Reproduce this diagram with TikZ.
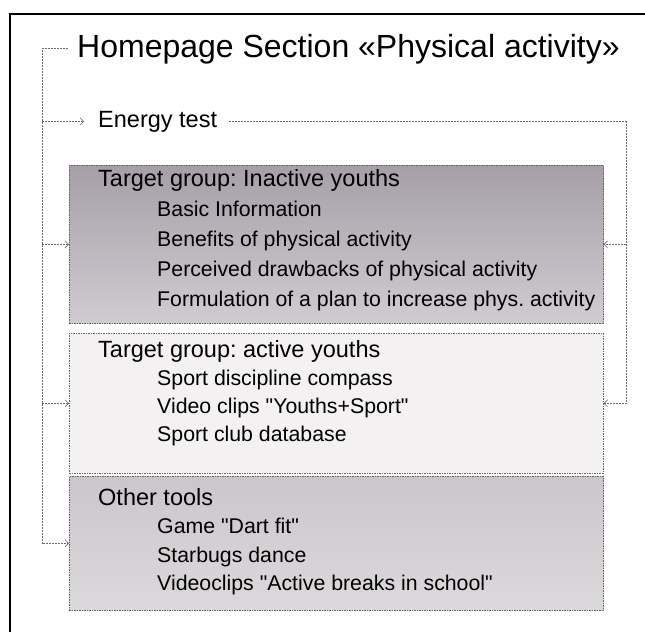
\documentclass[tikz,border=0pt]{standalone}
\usepackage{fontspec}
\setmainfont{Liberation Sans}
\frenchspacing
\usetikzlibrary{positioning, arrows.meta, calc}
\definecolor{inactivedark}{RGB}{166,159,168}
\definecolor{inactivelight}{RGB}{208,204,209}
\definecolor{activefill}{RGB}{243,241,241}
\definecolor{toolsdark}{RGB}{202,198,203}
\definecolor{toolslight}{RGB}{220,217,220}
\definecolor{linkgray}{RGB}{105,105,112}

\begin{document}
\begin{tikzpicture}[x=1pt, y=-1pt,
        grpbox/.style={rectangle, draw=gray!80!black, dash pattern=on 1.5pt off 1pt, line width=0.6pt, anchor=north west, minimum width=534pt, inner sep=0pt},
        head/.style={anchor=base west, inner sep=0pt, font=\fontsize{23.5}{28}\selectfont},
        item/.style={anchor=base west, inner sep=0pt, font=\fontsize{21.3}{26}\selectfont},
        link/.style={draw=linkgray, line width=0.6pt, dash pattern=on 2pt off 1pt},
        arrow/.style={link, -{Straight Barb[length=3.5pt, width=7pt]}}
    ]
        \useasboundingbox (0,0) rectangle (645,632);

        % Page frame
        \draw[line width=1.3pt] (645,14) -- (10,14) -- (10,632);

        % Title and energy test
        \node[head, font=\fontsize{32}{38}\selectfont] (title) at (77,57) {Homepage Section «Physical activity»};
        \node[head] (energy) at (98,127) {Energy test};

        % Target group: inactive youths
        \node[grpbox, top color=inactivedark, bottom color=inactivelight, minimum height=158pt] (inactive) at (69,165) {};
        \node[head] (inactive-head) at (98,186) {Target group: Inactive youths};
        \foreach \entry [count=\k] in {Basic Information, Benefits of physical activity, Perceived drawbacks of physical activity, Formulation of a plan to increase phys. activity}
            \node[item] (inactive-\k) at (157,{186+30*\k}) {\entry};

        % Target group: active youths
        \node[grpbox, fill=activefill, minimum height=140pt] (active) at (69,333) {};
        \node[head] (active-head) at (98,357) {Target group: active youths};
        \foreach \entry [count=\k] in {Sport discipline compass, Video clips \textquotedbl Youths+Sport\textquotedbl, Sport club database}
            \node[item] (active-\k) at (157,{357+28*\k}) {\entry};

        % Other tools
        \node[grpbox, top color=toolsdark, bottom color=toolslight, minimum height=134pt] (tools) at (69,476) {};
        \node[head] (tools-head) at (98,505) {Other tools};
        \foreach \entry [count=\k] in {Game \textquotedbl Dart fit\textquotedbl, Starbugs dance, Videoclips \textquotedbl Active breaks in school\textquotedbl}
            \node[item] (tools-\k) at (157,{505+28.5*\k}) {\entry};

        % Left connector
        \coordinate (lspine) at ([xshift=-35pt]title.west);
        \draw[arrow, shorten <=9pt] (title.west) -- (lspine) |- (tools.west);
        \draw[arrow, shorten >=14pt] (lspine |- energy.west) -- (energy.west);
        \draw[arrow] (lspine |- inactive.west) -- (inactive.west);
        \draw[arrow] (lspine |- active.west) -- (active.west);

        % Right connector
        \coordinate (rspine) at (626,122);
        \draw[arrow, shorten <=12pt] (energy.east) -- (energy.east -| rspine) |- (active.east);
        \draw[arrow] (rspine |- inactive.east) -- (inactive.east);
    \end{tikzpicture}
\end{document}
